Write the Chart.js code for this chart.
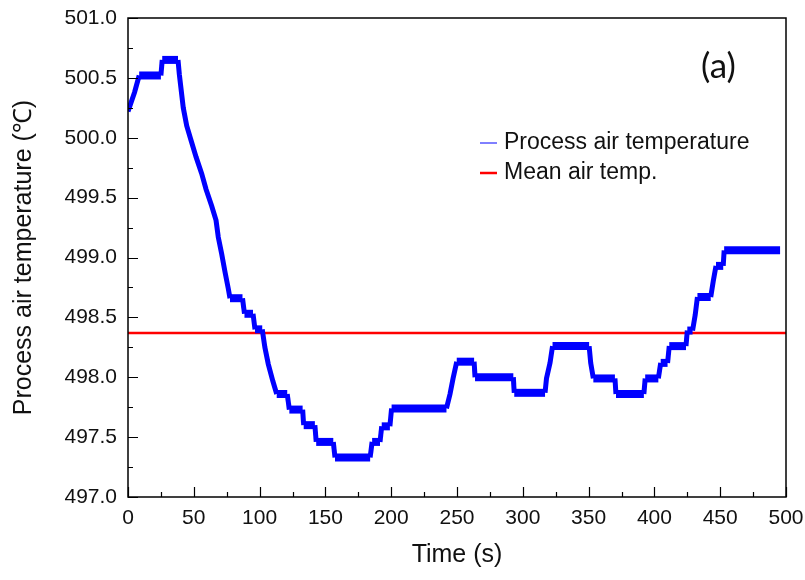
<!DOCTYPE html>
<html>
<head>
<meta charset="utf-8">
<title>Process air temperature</title>
<script src="https://cdn.jsdelivr.net/npm/chart.js@4.4.1/dist/chart.umd.min.js"></script>
<style>
  html, body { margin: 0; padding: 0; background: #fff; }
  #wrap { width: 805px; height: 580px; }
</style>
</head>
<body>
<div id="wrap"><canvas id="airTempChart" width="805" height="580"></canvas></div>
<script>
// Logged process air temperature: time (s) and reading (°C)
const timeS = [
  0, 5, 8.5, 25, 26, 38, 39, 42, 44.6, 47.6, 51.7, 56, 59.3, 63.6, 66.9,
  68.6, 71.2, 73.7, 76.2, 77.5, 87, 88.5, 95, 96.5, 102, 104, 106.6, 110,
  113, 121, 122.6, 132.7, 133.5, 142, 143, 156, 157.3, 184, 185.5, 191.5,
  192.8, 199, 200.3, 242, 244.7, 247, 249.8, 263, 263.7, 292.8, 293.5,
  316.9, 318, 320.7, 322.6, 350.4, 351.6, 353.6, 370, 370.8, 392, 393, 403,
  404.8, 410, 411.3, 424, 425, 429, 431, 432.7, 442.8, 444.7, 446.8, 452.3,
  453, 495.5
];
const airTemp = [
  500.22, 500.38, 500.52, 500.52, 500.65, 500.65, 500.53, 500.25, 500.10,
  499.99, 499.84, 499.70, 499.57, 499.43, 499.31, 499.17, 499.03, 498.88,
  498.74, 498.66, 498.66, 498.53, 498.53, 498.40, 498.40, 498.25, 498.11,
  497.97, 497.86, 497.86, 497.73, 497.73, 497.60, 497.60, 497.46, 497.46,
  497.33, 497.33, 497.46, 497.46, 497.59, 497.59, 497.74, 497.74, 497.86,
  497.99, 498.13, 498.13, 498.00, 498.00, 497.87, 497.87, 497.99, 498.12,
  498.26, 498.26, 498.12, 497.99, 497.99, 497.86, 497.86, 497.99, 497.99,
  498.12, 498.12, 498.26, 498.26, 498.39, 498.39, 498.52, 498.67, 498.67,
  498.80, 498.93, 498.93, 499.06, 499.06
];
const meanTemp = 498.37;
const meanSpan = [0, 500];

const xRange = [0, 500];
const yRange = [497.0, 501.0];

const seriesLabels = ["Process air temperature", "Mean air temp."];

const tempPoints = timeS.map((t, i) => ({ x: t, y: airTemp[i] }));
const meanPoints = meanSpan.map((t) => ({ x: t, y: meanTemp }));

// Box frame, inward ticks, legend and panel tag
const framePlugin = {
  id: "frame",
  afterDraw(chart) {
    const { ctx, chartArea: a } = chart;
    const xs = chart.scales.x;
    const ys = chart.scales.y;
    ctx.save();
    ctx.strokeStyle = "#000";
    ctx.lineWidth = 1.5;
    ctx.strokeRect(a.left, a.top, a.right - a.left, a.bottom - a.top);

    ctx.lineWidth = 1.2;
    ctx.beginPath();
    for (let t = xRange[0]; t <= xRange[1]; t += 25) {
      const px = Math.round(xs.getPixelForValue(t)) + 0.5;
      const len = t % 50 === 0 ? 10 : 5;
      ctx.moveTo(px, a.bottom);
      ctx.lineTo(px, a.bottom - len);
    }
    for (let k = 0; k <= 16; k++) {
      const v = yRange[0] + k * 0.25;
      const py = Math.round(ys.getPixelForValue(v)) + 0.5;
      const len = k % 2 === 0 ? 10 : 5;
      ctx.moveTo(a.left, py);
      ctx.lineTo(a.left + len, py);
    }
    ctx.stroke();

    // legend
    const ds = chart.data.datasets;
    const rows = [
      { y: 143, color: ds[0].borderColor, w: 1, text: ds[0].label },
      { y: 173, color: ds[1].borderColor, w: 2.5, text: ds[1].label }
    ];
    ctx.font = "23px 'Liberation Sans', Arial, sans-serif";
    ctx.textBaseline = "middle";
    ctx.textAlign = "left";
    rows.forEach((r) => {
      ctx.strokeStyle = r.color;
      ctx.lineWidth = r.w;
      ctx.beginPath();
      ctx.moveTo(480, r.y);
      ctx.lineTo(497, r.y);
      ctx.stroke();
      ctx.fillStyle = "#111";
      ctx.fillText(r.text, 504, r.y);
    });

    ctx.font = "35px Lato, 'Open Sans', sans-serif";
    ctx.fillText("(a)", 701, 67);
    ctx.restore();
  }
};

const ctx = document.getElementById("airTempChart").getContext("2d");
const airTempChart = new Chart(ctx, {
  type: "line",
  data: {
    datasets: [
      {
        label: seriesLabels[0],
        data: tempPoints,
        borderColor: "#0000ff",
        borderWidth: 8,
        borderCapStyle: "butt",
        borderJoinStyle: "miter",
        pointRadius: 0,
        tension: 0,
        segment: {
          // plateaus carry the wide noise band, ramps are narrower
          borderWidth: (c) => (c.p0.parsed.y === c.p1.parsed.y ? 8 : 5)
        }
      },
      {
        label: seriesLabels[1],
        data: meanPoints,
        borderColor: "#ff0000",
        borderWidth: 2.5,
        pointRadius: 0
      }
    ]
  },
  options: {
    responsive: false,
    animation: false,
    layout: { padding: { top: 18, right: 19, left: 0, bottom: 0 } },
    plugins: {
      legend: { display: false },
      tooltip: { enabled: false }
    },
    scales: {
      x: {
        type: "linear",
        min: xRange[0],
        max: xRange[1],
        afterFit: (scale) => {
          scale.height = 83;
          scale.paddingLeft = 0;
          scale.paddingRight = 0;
        },
        grid: { display: false, drawTicks: false },
        border: { display: false },
        ticks: {
          stepSize: 50,
          padding: 9,
          color: "#111",
          maxRotation: 0,
          font: { family: "'Liberation Sans', Arial, sans-serif", size: 21 }
        },
        title: {
          display: true,
          text: "Time (s)",
          color: "#111",
          padding: { top: 0, bottom: 10 },
          font: { family: "'Liberation Sans', Arial, sans-serif", size: 25 }
        }
      },
      y: {
        type: "linear",
        min: yRange[0],
        max: yRange[1],
        afterFit: (scale) => {
          scale.width = 128;
          scale.paddingTop = 0;
          scale.paddingBottom = 0;
        },
        grid: { display: false, drawTicks: false },
        border: { display: false },
        ticks: {
          stepSize: 0.5,
          padding: 11,
          color: "#111",
          callback: (v) => Number(v).toFixed(1),
          font: { family: "'Liberation Sans', Arial, sans-serif", size: 21 }
        },
        title: {
          display: true,
          text: "Process air temperature (℃)",
          color: "#111",
          padding: { top: 9, bottom: 0 },
          font: { family: "'Liberation Sans', Arial, sans-serif", size: 25 }
        }
      }
    }
  },
  plugins: [framePlugin]
});
</script>
</body>
</html>
